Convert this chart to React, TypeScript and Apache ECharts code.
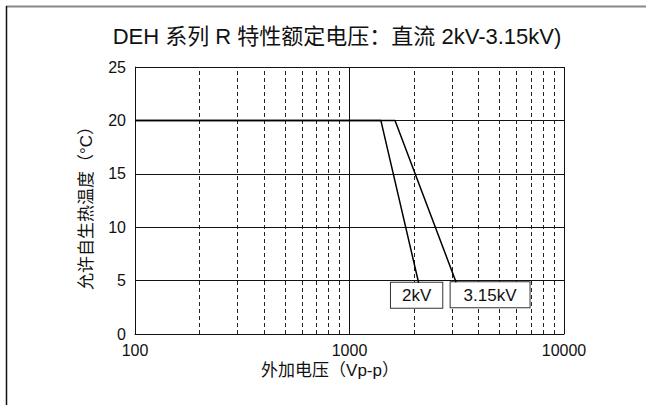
import React, { useEffect, useRef } from "react";
import * as echarts from "echarts";

const titleText = "DEH 系列 R 特性额定电压：直流 2kV-3.15kV)";
const xAxisName = "外加电压（Vp-p）";
const yAxisName = "允许自生热温度（°C）";

const seriesNames = ["2kV", "3.15kV"];
const series2kV: [number, number][] = [
  [100, 20],
  [1400, 20],
  [2100, 4.8],
];
const series315kV: [number, number][] = [
  [100, 20],
  [1630, 20],
  [3140, 4.85],
];
const minorGridValues = [200, 300, 400, 500, 600, 700, 800, 900, 2000, 3000, 4000, 5000, 6000, 7000, 8000, 9000];
const yMin = 0;
const yMax = 25;
const yInterval = 5;

const FONT = "'Liberation Sans', Arial, 'Noto Sans CJK SC', sans-serif";

export default function App() {
  const ref = useRef<HTMLDivElement>(null);
  useEffect(() => {
    if (!ref.current) return;
    const chart = echarts.init(ref.current, undefined, { renderer: "svg" });
    const labelBase = {
      show: true,
      position: "bottom" as const,
      distance: 0,
      color: "#111",
      fontSize: 17,
      fontFamily: FONT,
      borderColor: "#333",
      borderWidth: 1,
      backgroundColor: "#fff",
      lineHeight: 22,
    };
    const makeSeries = (name: string, data: [number, number][], offset: number[], pad: number) => ({
      name,
      type: "line",
      data,
      symbol: "none",
      lineStyle: { color: "#000", width: 1.5 },
      silent: true,
      z: 5,
      markPoint: {
        silent: true,
        symbol: "rect",
        symbolSize: 0,
        data: [
          {
            coord: data[data.length - 1],
            label: { ...labelBase, offset, padding: [2, pad, 1, pad], formatter: name },
          },
        ],
      },
    });
    chart.setOption({
      animation: false,
      backgroundColor: "#fff",
      textStyle: { fontFamily: FONT },
      grid: { left: 135, right: 82, top: 67, bottom: 71, containLabel: false },
      xAxis: {
        type: "log",
        logBase: 10,
        min: 100,
        max: 10000,
        axisLine: { show: true, lineStyle: { color: "#111", width: 1 } },
        axisTick: { show: false },
        axisLabel: {
          color: "#111",
          fontSize: 16,
          fontFamily: FONT,
          margin: 8,
          formatter: (v: number) => String(Math.round(v)),
        },
        splitLine: { show: true, lineStyle: { color: "#111", width: 1 } },
      },
      yAxis: {
        type: "value",
        min: yMin,
        max: yMax,
        interval: yInterval,
        axisLine: { show: true, lineStyle: { color: "#111", width: 1 } },
        axisTick: { show: false },
        axisLabel: { color: "#111", fontSize: 16, fontFamily: FONT, margin: 9 },
        splitLine: { show: true, lineStyle: { color: "#111", width: 1 } },
      },
      series: [
        {
          type: "line",
          data: [],
          silent: true,
          markLine: {
            silent: true,
            symbol: "none",
            label: { show: false },
            lineStyle: { color: "#222", width: 1, type: [4, 3] },
            data: minorGridValues.map((v) => ({ xAxis: v })),
          },
        },
        makeSeries(seriesNames[0], series2kV, [-2, 0], 11),
        makeSeries(seriesNames[1], series315kV, [34, 0], 13),
      ],
      graphic: [
        { type: "line", shape: { x1: 6, y1: 6.5, x2: 646, y2: 6.5 }, style: { stroke: "#888", lineWidth: 2 } },
        { type: "line", shape: { x1: 6.5, y1: 6, x2: 6.5, y2: 405 }, style: { stroke: "#111", lineWidth: 1.5 } },
        {
          type: "text",
          x: 337,
          y: 36,
          style: {
            text: titleText,
            fontSize: 22,
            fontFamily: FONT,
            fill: "#111",
            align: "center",
            verticalAlign: "middle",
          },
        },
        {
          type: "text",
          x: 330,
          y: 370,
          style: {
            text: xAxisName,
            fontSize: 17,
            fontFamily: FONT,
            fill: "#111",
            align: "center",
            verticalAlign: "middle",
          },
        },
        {
          type: "text",
          x: 86,
          y: 204,
          rotation: Math.PI / 2,
          style: {
            text: yAxisName,
            fontSize: 17,
            fontFamily: FONT,
            fill: "#111",
            align: "center",
            verticalAlign: "middle",
          },
        },
      ],
    });
    return () => chart.dispose();
  }, []);
  return (
    <div
      ref={ref}
      style={{ position: "absolute", left: 0, top: 0, width: 646, height: 405 }}
    />
  );
}
